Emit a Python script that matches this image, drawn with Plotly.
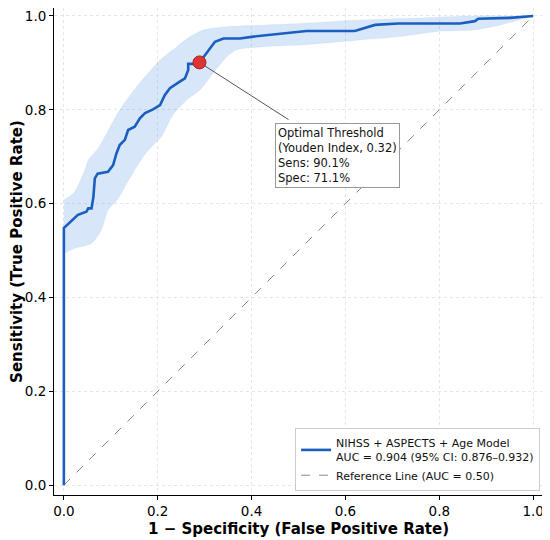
import numpy as np
import plotly.graph_objects as go

# ROC curve points (1 - specificity, sensitivity)
fpr = [0.0, 0.0, 0.030, 0.038, 0.048, 0.052, 0.059, 0.063, 0.066, 0.072, 0.094, 0.105,
       0.112, 0.119, 0.130, 0.137, 0.151, 0.162, 0.173, 0.190, 0.205, 0.215, 0.226,
       0.247, 0.258, 0.265, 0.265, 0.276, 0.289, 0.301, 0.315, 0.322, 0.340, 0.375,
       0.404, 0.432, 0.475, 0.482, 0.517, 0.620, 0.635, 0.663, 0.713, 0.844, 0.876,
       0.883, 0.951, 1.0]
tpr = [0.0, 0.548, 0.576, 0.579, 0.583, 0.590, 0.590, 0.615, 0.654, 0.664, 0.668, 0.682,
       0.707, 0.725, 0.736, 0.757, 0.764, 0.782, 0.793, 0.801, 0.810, 0.831, 0.846,
       0.860, 0.867, 0.885, 0.898, 0.898, 0.901, 0.917, 0.935, 0.945, 0.952, 0.952,
       0.956, 0.959, 0.963, 0.965, 0.968, 0.968, 0.973, 0.981, 0.984, 0.984, 0.989,
       0.994, 0.996, 1.0]

# 95% CI band
ci_upper_x = [0.0, 0.023, 0.045, 0.052, 0.073, 0.094, 0.119, 0.155, 0.205, 0.240, 0.269,
              0.297, 0.347, 0.432, 0.503, 0.617, 0.787, 0.859, 1.0]
ci_upper_y = [0.608, 0.625, 0.672, 0.693, 0.718, 0.755, 0.800, 0.849, 0.906, 0.934, 0.956,
              0.970, 0.977, 0.981, 0.984, 0.991, 0.997, 1.0, 1.0]
ci_lower_x = [0.0, 0.023, 0.059, 0.080, 0.094, 0.116, 0.130, 0.151, 0.169, 0.187, 0.208,
              0.233, 0.262, 0.290, 0.318, 0.347, 0.368, 0.432, 0.503, 0.631, 0.716, 0.795,
              0.872, 0.930, 1.0]
ci_lower_y = [0.494, 0.505, 0.515, 0.544, 0.586, 0.611, 0.636, 0.672, 0.700, 0.721, 0.743,
              0.790, 0.821, 0.842, 0.878, 0.913, 0.928, 0.935, 0.938, 0.949, 0.956, 0.967,
              0.970, 0.981, 1.0]

# Youden optimal point
opt_fpr = [0.289]
opt_tpr = [0.901]

ref_x = [0, 1]
ref_y = [0, 1]

ticks = [0.0, 0.2, 0.4, 0.6, 0.8, 1.0]
tick_text = ["0.0", "0.2", "0.4", "0.6", "0.8", "1.0"]

BLUE = "#1a5fbf"
FONT = "DejaVu Sans"

fig = go.Figure()

# CI band
fig.add_trace(go.Scatter(x=ci_upper_x, y=ci_upper_y, mode="lines",
                         line=dict(width=0.5, color="rgba(26,95,191,0.12)", shape="spline", smoothing=0.6),
                         showlegend=False, hoverinfo="skip"))
fig.add_trace(go.Scatter(x=ci_lower_x, y=ci_lower_y, mode="lines",
                         line=dict(width=0.5, color="rgba(26,95,191,0.12)", shape="spline", smoothing=0.6),
                         fill="tonexty", fillcolor="rgba(74,144,226,0.22)", showlegend=False, hoverinfo="skip"))

# reference diagonal
fig.add_trace(go.Scatter(x=ref_x, y=ref_y, mode="lines", line=dict(color="#888888", width=1, dash="dash"),
                         name="Reference Line (AUC = 0.50)"))

# ROC curve
fig.add_trace(go.Scatter(x=fpr, y=tpr, mode="lines", line=dict(color=BLUE, width=2.6),
                         name="NIHSS + ASPECTS + Age Model<br>AUC = 0.904 (95% CI: 0.876\u20130.932)"))

# optimal point
fig.add_trace(go.Scatter(x=opt_fpr, y=opt_tpr, mode="markers",
                         marker=dict(color="#dc3535", size=13, line=dict(color="#b02020", width=1)),
                         showlegend=False))

# leader line + text box
fig.add_annotation(x=opt_fpr[0], y=opt_tpr[0], ax=0.482, ay=0.777, axref="x", ayref="y",
                   text="", showarrow=True, arrowhead=0, arrowwidth=1, arrowcolor="#555555",
                   standoff=6)
fig.add_annotation(x=0.45, y=0.772, xref="x", yref="y", xanchor="left", yanchor="top",
                   text="Optimal Threshold<br>(Youden Index, 0.32)<br>Sens: 90.1%<br>Spec: 71.1%",
                   showarrow=False, align="left", font=dict(family=FONT, size=11.5, color="#111111"),
                   bgcolor="white", bordercolor="#999999", borderwidth=1, borderpad=2)

axis_common = dict(tickvals=ticks, ticktext=tick_text, showline=True,
                   linecolor="black", linewidth=1, ticks="outside", ticklen=4, tickcolor="black",
                   showgrid=True, gridcolor="#e6e6e6", griddash="dot", gridwidth=1, zeroline=False,
                   ticklabeloverflow="allow",
                   tickfont=dict(family=FONT, size=13.5, color="black"))

fig.update_xaxes(range=[-0.021, 1.021],
                 title=dict(text="<b>1 \u2212 Specificity (False Positive Rate)</b>",
                            font=dict(family=FONT, size=15, color="black"), standoff=5), **axis_common)
fig.update_yaxes(range=[-0.021, 1.017],
                 title=dict(text="<b>Sensitivity (True Positive Rate)</b>",
                            font=dict(family=FONT, size=15, color="black"), standoff=7), **axis_common)

# page body adds an 8px margin, so the figure is 8px smaller than the window
fig.update_layout(
    width=542, height=532,
    margin=dict(l=46, r=7, t=0, b=45),
    paper_bgcolor="white", plot_bgcolor="white",
    font=dict(family=FONT),
    legend=dict(x=0.994, y=0.008, xanchor="right", yanchor="bottom", traceorder="reversed",
                bgcolor="white", bordercolor="#cccccc", borderwidth=1,
                font=dict(family=FONT, size=11, color="#111111"), tracegroupgap=0),
)

fig.write_html("out.html")
